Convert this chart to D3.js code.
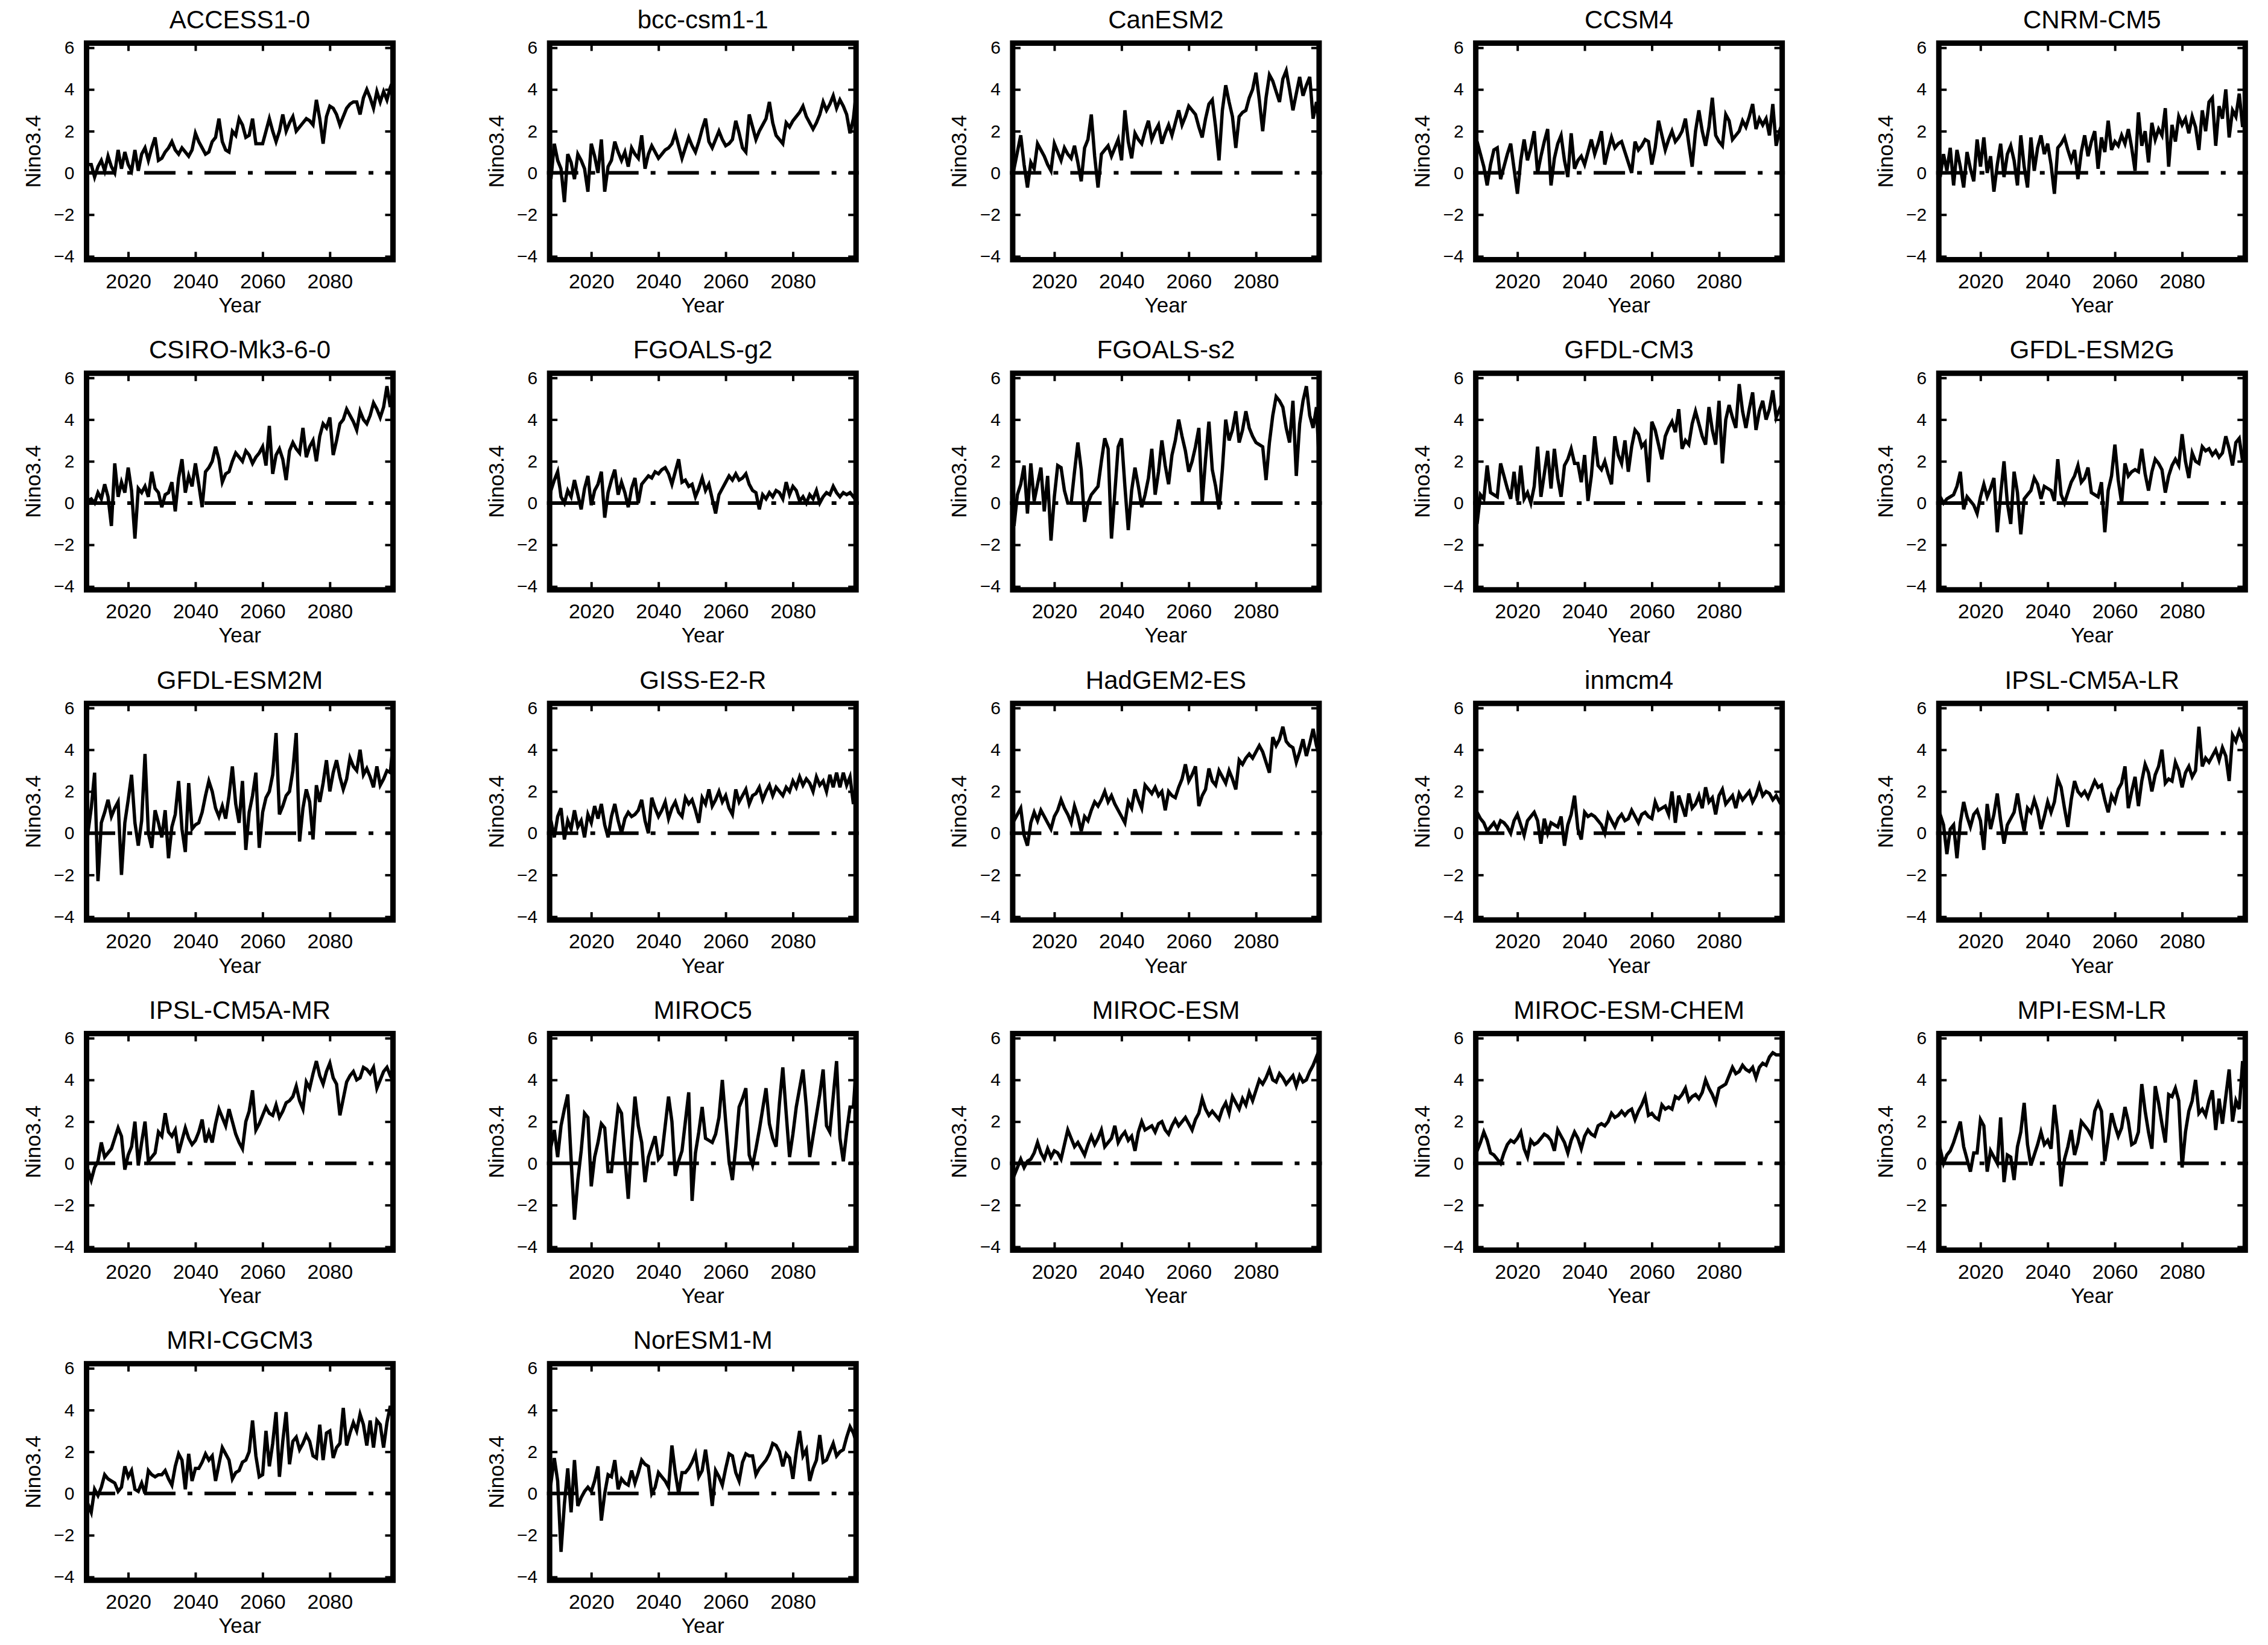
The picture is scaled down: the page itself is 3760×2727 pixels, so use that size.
<!DOCTYPE html>
<html lang="en">
<head>
<meta charset="utf-8">
<title>Nino3.4 - CMIP5 models</title>
<script src="https://cdn.jsdelivr.net/npm/d3@7"></script>
<style>
  body {margin: 0; background: white;}
  svg {display: block; background: white; font-family: "Liberation Sans", Arial, Helvetica, sans-serif;}
  .domain {display: none;}
  .tick line {stroke: black; stroke-width: 4;}
</style>
</head>
<body>
<svg id="chart" width="3760" height="2727"></svg>
<script>
var years = d3.range(2006, 2101);
var xTicks = [2020, 2040, 2060, 2080];
var yTicks = [-4, -2, 0, 2, 4, 6];

var models = ["ACCESS1-0", "bcc-csm1-1", "CanESM2", "CCSM4", "CNRM-CM5",
  "CSIRO-Mk3-6-0", "FGOALS-g2", "FGOALS-s2", "GFDL-CM3", "GFDL-ESM2G",
  "GFDL-ESM2M", "GISS-E2-R", "HadGEM2-ES", "inmcm4", "IPSL-CM5A-LR",
  "IPSL-CM5A-MR", "MIROC5", "MIROC-ESM", "MIROC-ESM-CHEM", "MPI-ESM-LR",
  "MRI-CGCM3", "NorESM1-M"];

var access10 = [1.0,0.5,0.4,0.4,-0.2,0.3,0.6,0.1,0.8,0.3, 0.0,1.1,0.2,1.0,0.4,0.1,1.1,0.1,0.9,1.2,
  0.6,1.2,1.7,0.6,0.7,1.0,1.2,1.5,1.1,0.9, 1.2,1.0,0.8,1.1,1.9,1.5,1.2,0.9,1.0,1.5,
  1.7,2.6,1.5,1.1,1.0,2.0,1.8,2.6,2.3,1.7, 1.8,2.6,1.4,1.4,1.4,2.0,2.6,2.0,1.5,2.0,
  2.8,2.0,2.4,2.7,2.0,2.2,2.4,2.6,2.5,2.3, 3.5,2.6,1.4,2.7,3.2,3.1,2.8,2.3,2.7,3.1,
  3.3,3.4,3.4,2.8,3.6,4.0,3.6,3.1,3.9,3.4, 3.9,3.5,4.1,4.5,3.5];
var bcc = [0.8,0.9,-0.3,1.4,0.6,0.2,-1.4,0.9,0.5,-0.3, 0.9,0.6,0.2,-0.9,1.4,0.8,0.0,1.6,-0.9,0.3,
  0.6,1.5,1.0,0.6,1.0,0.3,1.2,0.9,0.7,1.8, 0.2,0.9,1.3,1.0,0.7,0.9,1.1,1.2,1.4,1.9,
  1.3,0.7,1.2,1.7,1.3,1.0,1.5,2.1,2.6,1.5, 1.2,1.6,2.0,1.6,1.3,1.4,1.6,2.5,1.9,1.2,
  1.0,2.8,2.2,1.6,2.0,2.3,2.6,3.4,2.4,1.8, 1.6,1.4,2.4,2.2,2.5,2.7,2.9,3.2,2.7,2.4,
  2.1,2.4,2.8,3.4,3.0,3.3,3.7,3.1,3.5,3.2, 2.8,1.9,2.6,4.1,3.0];
var canesm2 = [-1.3,-0.4,0.2,1.0,1.8,0.4,-0.7,0.5,0.2,1.4, 1.1,0.8,0.4,0.1,1.4,1.0,0.6,1.2,0.9,0.7,
  1.3,0.5,-0.4,1.2,1.6,2.8,0.8,-0.7,0.9,1.1, 1.3,0.8,1.2,1.6,0.6,3.0,1.5,0.7,1.9,1.6,
  1.4,2.0,2.5,1.6,2.0,2.3,1.4,1.9,2.3,1.8, 2.4,3.0,2.3,2.7,3.2,3.0,2.8,2.2,1.7,2.6,
  3.3,3.5,2.2,0.6,3.0,4.2,3.4,2.7,1.2,2.7, 2.9,3.0,3.6,4.0,4.8,3.5,2.0,3.6,4.7,4.4,
  3.9,3.4,4.5,4.9,4.0,3.0,3.8,4.6,3.7,4.2, 4.6,2.6,3.4,2.0,5.4];
var ccsm4 = [-0.3,0.6,1.5,0.9,0.3,-0.6,0.4,1.1,1.2,-0.3, 0.3,0.9,1.4,0.2,-1.0,0.6,1.6,0.6,1.2,2.0,
  0.0,0.8,1.5,2.1,-0.6,0.7,1.4,1.8,0.6,-0.2, 1.9,0.2,0.6,0.8,0.4,1.0,1.6,0.9,1.4,2.0,
  0.4,1.1,1.7,1.2,1.4,1.5,1.0,0.5,0.0,1.5, 1.1,1.3,1.6,1.5,0.4,1.2,2.5,1.8,1.1,1.6,
  2.0,1.5,1.7,2.0,2.6,1.4,0.3,2.0,3.0,2.0, 1.3,2.2,3.6,1.8,1.5,1.3,2.8,2.5,1.6,1.8,
  2.0,2.5,2.2,2.7,3.3,2.1,2.6,2.3,2.6,1.8, 3.3,1.3,2.0,2.5,3.4];
var cnrm = [0.3,0.6,-0.2,0.9,0.1,1.2,-0.6,1.1,0.3,-0.7, 1.0,0.2,-0.4,1.6,0.3,1.7,0.0,0.8,-0.9,0.4,
  1.4,-0.2,0.9,1.3,0.6,-0.6,1.8,0.3,-0.7,1.7, 0.1,1.2,1.8,0.9,1.4,0.4,-1.0,1.2,1.4,1.7,
  1.1,0.6,1.1,-0.3,1.0,1.8,0.8,1.5,2.0,0.2, 1.7,1.0,2.5,1.1,1.5,1.3,1.8,1.4,2.1,1.2,
  0.1,2.9,1.3,2.0,0.5,2.4,1.6,2.1,1.8,3.1, 0.3,2.3,1.5,2.7,2.3,2.6,1.9,2.7,2.2,1.1,
  3.0,2.0,3.4,3.6,1.3,3.2,2.6,4.0,1.7,3.0, 2.7,3.8,2.2,3.0,2.3];
var csiro = [0.8,-0.3,0.1,0.2,0.0,0.5,0.2,0.9,0.3,-1.1, 1.9,0.3,1.0,0.5,1.7,0.6,-1.7,0.7,0.5,0.8,
  0.3,1.5,0.7,0.5,-0.2,0.4,0.5,1.0,-0.4,1.2, 2.1,0.5,1.3,0.8,1.9,0.9,-0.2,1.5,1.7,2.0,
  2.7,2.1,1.0,1.4,1.5,2.0,2.4,2.2,2.0,2.5, 2.3,1.9,2.2,2.4,2.7,1.8,3.7,1.4,2.3,2.6,
  2.1,1.1,2.5,2.9,2.6,2.4,3.6,2.2,2.7,3.0, 2.0,3.2,3.8,3.6,4.1,2.3,3.0,3.8,4.0,4.5,
  4.2,3.9,3.5,4.4,4.0,3.8,4.2,4.8,4.5,4.1, 4.6,5.6,4.6,5.7,2.0];
var fgoalsG2 = [-1.3,-0.5,0.6,1.1,1.5,0.3,0.0,0.6,0.3,1.1, 0.4,-0.3,0.7,1.3,-0.1,0.6,0.9,1.5,-0.7,0.5,
  1.1,1.6,0.4,1.0,0.5,-0.2,0.7,1.2,0.0,0.9, 1.1,1.3,1.2,1.5,1.4,1.6,1.7,1.4,0.9,1.5,
  2.1,1.0,1.1,0.8,0.9,0.3,0.7,1.2,0.6,0.9, 0.2,-0.5,0.4,0.7,1.0,1.3,1.1,1.4,1.1,1.2,
  1.4,0.9,0.6,0.5,-0.3,0.4,0.2,0.5,0.3,0.6, 0.5,0.2,1.0,0.4,0.8,0.6,0.1,0.3,0.0,0.4,
  0.2,0.6,0.0,0.3,0.5,0.4,0.8,0.5,0.3,0.5, 0.4,0.5,0.3,0.5,0.4];
var fgoalsS2 = [1.6,0.3,-1.1,0.4,0.9,1.8,-0.5,1.9,0.1,0.9, 1.7,-0.4,1.3,-1.8,0.3,1.8,1.7,0.6,0.0,0.0,
  1.5,2.9,1.6,-0.9,0.0,0.4,0.6,0.8,2.0,3.1, 2.6,-1.7,0.5,2.7,3.1,0.8,-1.3,0.6,1.7,0.8,
  -0.2,0.4,1.2,2.6,0.4,1.5,3.0,1.8,0.9,2.3, 3.0,4.0,3.2,2.5,1.5,2.0,2.7,3.6,0.0,2.1,
  3.9,1.6,0.8,-0.3,1.6,4.0,3.0,3.5,4.4,2.9, 3.5,4.4,3.6,3.2,2.9,2.8,2.7,1.1,2.9,4.2,
  5.1,4.9,4.6,3.6,2.9,4.9,1.3,3.8,4.9,5.6, 4.2,3.6,4.6,1.3,5.0];
var gfdlCm3 = [1.7,-0.2,-1.0,0.4,0.2,1.8,0.5,0.4,0.3,1.9, 1.3,0.7,0.2,1.5,0.1,1.8,0.2,0.5,0.0,0.8,
  2.7,0.3,1.4,2.5,0.7,2.6,1.2,0.3,1.8,2.1, 2.6,1.9,1.9,1.0,2.3,0.1,1.3,3.2,1.8,1.6,
  2.0,1.4,0.9,3.2,2.3,1.9,3.0,1.5,2.7,3.5, 3.3,2.7,2.9,1.0,3.9,3.5,2.8,2.1,3.2,3.6,
  3.9,3.4,4.5,2.6,3.0,2.8,3.8,4.4,3.8,3.2, 2.8,4.6,3.5,2.8,4.9,1.9,4.0,4.7,4.1,3.6,
  5.7,4.4,3.6,4.5,5.3,3.5,4.4,4.9,4.0,4.5, 5.4,4.1,4.5,4.9,5.2];
var gfdlEsm2g = [0.0,0.5,0.3,0.0,0.2,0.3,0.4,0.8,1.5,-0.3, 0.3,0.1,-0.1,-0.5,0.3,0.9,0.3,0.7,1.2,-1.4,
  0.4,2.0,0.0,-1.0,1.5,0.5,-1.5,0.2,0.4,0.6, 1.2,0.9,0.2,0.8,0.7,0.6,0.1,2.1,0.4,0.0,
  0.5,1.0,1.3,1.8,1.0,1.2,1.7,0.5,0.4,0.3, 1.0,-1.4,0.6,1.3,2.8,1.1,0.0,1.9,1.3,1.5,
  1.6,1.5,2.6,1.4,0.6,1.5,2.1,1.9,1.6,0.5, 1.3,1.8,2.1,1.8,3.3,2.0,1.2,2.4,2.0,1.9,
  2.7,2.5,2.6,2.3,2.5,2.2,2.4,3.2,2.6,1.8, 2.9,3.1,2.0,2.6,3.1];
var gfdlEsm2m = [1.3,-2.0,0.0,1.2,2.9,-2.3,0.5,1.0,1.6,0.8, 1.2,1.5,-2.0,0.5,1.6,2.8,0.5,-0.6,0.6,3.8,
  0.0,-0.7,1.1,0.5,-0.2,1.1,-1.2,0.3,0.9,2.5, 0.2,-0.9,2.4,0.2,0.4,0.5,1.0,1.8,2.5,2.0,
  1.2,0.8,1.3,0.7,1.8,3.2,1.4,0.5,2.5,-0.8, 1.0,1.8,2.9,-0.7,1.0,1.7,2.0,2.8,4.8,0.9,
  1.3,1.8,2.0,3.0,4.8,-0.4,1.2,2.1,1.5,-0.3, 2.3,1.5,2.4,3.5,2.0,2.9,3.5,2.7,2.1,2.6,
  3.6,3.2,3.0,4.0,2.8,3.1,2.7,2.2,3.2,2.3, 2.6,3.0,2.9,4.6,3.0];
var giss = [0.7,0.0,0.6,-0.2,0.8,1.2,-0.3,0.6,0.2,1.1, 0.3,0.6,-0.2,0.9,0.5,1.3,0.7,1.4,0.4,-0.2,
  0.8,1.4,0.6,0.0,0.7,1.0,0.8,0.9,1.1,1.6, 0.6,0.0,1.7,1.2,0.8,1.1,1.5,0.7,1.2,1.5,
  1.0,0.8,1.7,1.4,1.6,1.1,0.5,1.7,1.4,2.1, 1.3,1.6,2.0,1.5,1.8,1.2,0.9,2.1,1.5,1.8,
  2.1,1.4,1.8,1.9,2.2,1.6,2.0,2.3,1.8,2.2, 2.0,1.8,2.2,2.0,2.5,2.2,2.7,2.3,2.6,2.4,
  2.0,2.7,2.3,2.5,2.0,2.8,2.2,2.9,2.2,2.9, 2.3,2.7,1.4,2.5,2.9];
var hadgem = [0.0,0.3,0.6,0.9,1.2,-0.1,-0.6,0.5,1.0,0.6, 1.1,0.8,0.5,0.2,0.8,1.1,1.6,1.2,0.9,0.5,
  1.3,0.8,0.1,0.8,0.6,1.1,1.5,1.3,1.6,2.0, 1.5,1.8,1.4,1.1,0.8,0.5,1.5,1.2,2.1,1.6,
  1.2,2.3,2.1,1.9,2.2,1.8,2.0,1.1,2.0,1.8, 1.7,2.2,2.6,3.3,2.5,2.8,3.2,1.3,1.8,2.1,
  3.1,2.5,2.3,3.0,2.7,2.4,3.0,2.6,2.1,3.5, 3.3,3.6,3.8,3.6,3.9,4.2,3.9,3.4,2.9,4.6,
  4.2,4.5,5.1,4.4,4.2,4.1,3.4,3.9,4.5,3.7, 4.3,5.0,4.2,3.6,4.8];
var inmcm4 = [-0.5,0.4,1.0,0.7,0.5,0.1,0.3,0.5,0.2,0.6, 0.5,0.3,0.0,0.6,0.9,0.4,-0.1,0.6,0.8,1.0,
  0.6,-0.5,0.7,0.0,0.5,0.4,0.3,0.8,-0.6,0.4, 0.9,1.8,0.2,-0.3,1.0,0.8,0.9,0.8,0.6,0.4,
  0.0,0.9,0.6,0.3,0.7,0.9,0.6,0.7,1.1,0.8, 0.5,0.9,1.0,0.8,0.7,1.5,1.1,1.2,1.3,0.9,
  2.0,0.5,1.8,1.3,0.8,1.9,1.2,1.4,1.8,1.2, 2.2,1.5,1.7,0.9,1.8,2.1,1.4,1.6,1.8,1.2,
  1.9,1.6,1.8,2.0,1.5,1.8,2.3,1.8,2.0,1.9, 1.6,1.8,1.5,1.7,2.0];
var ipslLr = [-0.3,0.5,0.9,0.4,-1.0,0.2,0.4,-1.2,0.5,1.5, 0.8,0.3,0.9,1.1,0.6,-0.8,1.4,0.2,0.9,1.9,
  0.6,-0.5,0.4,0.7,1.0,1.9,0.9,0.1,1.2,1.0, 1.6,1.1,0.2,0.8,1.5,1.0,1.5,2.6,2.2,1.2,
  0.3,1.6,2.5,2.0,1.8,2.0,1.7,2.1,2.5,2.2, 2.3,1.6,1.0,1.8,1.5,2.1,2.4,3.2,1.2,2.0,
  2.7,1.3,2.5,3.3,2.9,2.0,2.8,3.2,4.0,2.4, 2.6,2.5,3.4,3.0,2.2,2.9,3.2,2.7,3.0,5.1,
  3.2,3.6,3.4,3.7,4.0,3.5,4.1,3.7,2.5,4.7, 4.4,4.9,4.5,4.8,4.2];
var ipslMr = [2.0,0.3,-0.3,-0.8,-0.2,0.1,1.0,0.3,0.5,0.7, 1.2,1.7,1.3,-0.3,0.4,0.8,2.0,-0.1,1.0,2.0,
  0.1,0.3,0.5,1.5,1.3,2.4,1.5,1.3,1.6,0.5, 1.1,1.7,1.2,0.9,1.1,1.5,2.1,1.0,1.5,1.0,
  1.9,2.6,2.2,1.8,2.6,2.0,1.4,1.0,0.7,2.0, 2.5,3.5,1.6,1.9,2.3,2.7,2.4,2.3,2.8,2.2,
  2.5,2.9,3.0,3.2,3.7,3.0,2.6,3.9,3.6,4.3, 4.9,4.2,3.8,4.4,4.8,4.1,3.8,2.3,3.1,3.9,
  4.2,4.4,4.0,4.1,4.6,4.5,4.3,4.6,3.6,4.0, 4.4,4.6,4.2,3.9,5.4];
var miroc5 = [0.2,-0.3,0.8,1.6,0.3,1.8,2.6,3.3,0.2,-2.7, -0.8,0.6,2.4,2.2,-1.1,0.3,1.0,1.9,1.7,-0.4,
  -0.4,1.2,2.7,2.4,0.3,-1.7,1.0,3.2,1.8,1.0, -0.9,0.3,0.8,1.3,0.2,0.4,1.8,3.2,2.0,-0.6,
  0.1,0.6,2.0,3.4,-1.8,0.5,1.5,2.7,1.2,1.1, 1.0,1.4,2.2,4.0,2.0,0.1,-0.8,0.8,2.7,3.1,
  3.6,0.4,-0.1,0.7,1.6,2.6,3.6,1.9,1.2,0.8, 2.9,4.6,2.4,0.3,1.4,2.7,3.6,4.5,2.7,0.3,
  1.3,2.3,3.3,4.5,1.8,1.5,3.2,4.9,1.2,0.1, 1.5,2.7,2.7,5.0,2.2];
var mirocEsm = [0.8,0.6,-0.6,-0.2,0.2,-0.2,0.1,0.2,0.5,1.0, 0.5,0.2,0.7,0.3,0.6,0.5,0.2,0.9,1.6,1.2,
  0.8,1.0,0.7,0.4,0.9,1.3,0.9,1.2,1.6,0.8, 1.0,1.2,1.8,1.0,1.3,1.5,1.1,1.3,0.6,1.5,
  2.0,1.6,1.7,1.8,1.5,1.9,2.0,1.6,1.4,1.8, 2.1,1.8,2.0,2.2,1.9,1.6,2.1,2.4,3.1,2.6,
  2.3,2.5,2.3,2.1,2.6,2.9,2.4,3.2,2.9,2.6, 3.1,2.8,3.4,3.0,3.5,4.0,3.8,4.1,4.5,4.0,
  3.9,4.3,4.1,3.8,4.0,4.2,3.7,4.2,3.9,4.0, 4.4,4.7,5.1,4.5,5.0];
var mirocEsmChem = [0.0,0.3,0.6,1.0,1.5,1.1,0.5,0.4,0.2,0.0, 0.5,0.9,1.1,1.0,1.2,1.5,0.7,0.3,1.1,0.9,
  1.0,1.2,1.4,1.3,1.1,0.6,1.6,1.3,1.0,0.5, 1.1,1.5,1.2,0.7,1.3,1.6,1.4,1.3,1.8,1.9,
  1.8,2.0,2.4,2.2,2.3,2.5,2.3,2.5,2.6,2.1, 2.5,2.8,3.2,2.3,2.4,2.2,2.1,2.8,2.6,2.7,
  2.6,3.2,3.1,3.3,3.6,3.0,3.2,3.3,3.1,3.4, 4.0,3.6,3.3,2.9,3.6,3.7,3.8,4.2,4.6,4.3,
  4.4,4.7,4.5,4.4,4.6,4.1,4.6,4.8,4.7,5.1, 5.3,5.2,5.2,5.1,4.9];
var mpiLr = [0.3,1.4,0.7,0.0,0.4,0.6,1.0,1.5,2.0,0.8, 0.2,-0.4,0.5,0.5,2.1,1.8,-0.4,0.6,0.3,0.0,
  2.2,-0.9,0.4,0.3,-0.8,0.8,1.5,2.9,0.9,-0.1, 0.4,0.9,1.5,0.9,1.1,0.7,2.8,1.4,-1.1,0.2,
  0.8,1.6,0.4,1.0,2.0,1.8,1.6,1.3,2.5,2.9, 2.5,0.1,1.2,2.4,1.8,1.3,1.7,2.7,2.0,0.9,
  1.0,1.5,3.8,2.5,1.5,0.7,3.7,2.9,1.9,1.0, 3.3,3.2,3.6,3.0,-0.2,1.5,2.5,3.0,4.0,2.4,
  2.6,2.3,3.0,3.5,1.6,3.1,1.9,3.2,4.5,2.0, 3.0,2.6,4.9,2.2,4.2];
var mri = [1.3,0.1,-0.5,-0.9,0.2,-0.1,0.3,0.9,0.7,0.6, 0.5,0.1,0.3,1.3,0.8,1.1,0.2,0.1,0.5,0.0,
  1.1,0.9,0.8,0.9,0.9,1.1,0.7,0.4,1.3,1.9, 1.6,0.2,1.9,0.6,1.2,1.2,1.5,1.9,1.6,1.8,
  0.6,1.4,2.2,1.9,1.6,0.7,1.0,1.1,1.5,1.6, 2.0,3.5,1.8,0.8,0.9,3.0,1.3,2.4,3.9,0.8,
  2.5,3.9,1.4,2.5,2.7,2.1,2.4,2.8,2.5,1.8, 1.7,3.3,1.6,2.9,3.0,1.7,2.2,2.4,4.1,2.3,
  2.9,3.4,3.0,3.8,3.3,2.3,3.5,2.2,3.5,3.3, 2.2,3.4,4.2,3.2,2.6];
var noresm = [0.2,-0.2,0.5,1.7,0.6,-2.8,-0.5,1.2,-0.9,1.6, -0.6,-0.2,0.1,0.3,0.1,0.6,1.3,-1.3,0.0,0.9,
  0.8,1.6,0.2,0.7,0.5,0.4,1.1,0.5,1.0,1.6, 1.4,1.3,0.0,0.3,1.0,0.8,0.6,0.3,2.3,1.0,
  0.0,1.0,1.0,1.2,1.5,1.9,0.8,1.1,2.1,0.9, -0.6,1.1,0.8,0.4,1.2,1.9,1.8,1.0,0.6,1.5,
  1.9,1.8,1.8,0.9,1.2,1.4,1.6,1.9,2.4,2.3, 2.0,1.3,1.9,1.7,0.7,2.0,3.0,1.8,2.1,0.6,
  1.2,1.6,2.8,1.5,1.6,2.0,2.4,1.8,2.0,2.1, 2.7,3.2,2.9,2.4,1.9];

var series = [access10, bcc, canesm2, ccsm4, cnrm, csiro, fgoalsG2, fgoalsS2, gfdlCm3, gfdlEsm2g,
  gfdlEsm2m, giss, hadgem, inmcm4, ipslLr, ipslMr, miroc5, mirocEsm, mirocEsmChem, mpiLr, mri, noresm];

var ncol = 5, left0 = 139, top0 = 67, colStep = 767.7, rowStep = 547.3;
var panelW = 517, panelH = 368, frameW = 9, tickLen = 13;

var svg = d3.select('#chart');

models.forEach(function(name, i) {
  var col = i % ncol, row = Math.floor(i / ncol);
  var left = left0 + col * colStep, top = top0 + row * rowStep;
  var half = frameW / 2;

  var x = d3.scaleLinear().domain([2006.8, 2099.6]).range([left, left + panelW]);
  var y = d3.scaleLinear().domain([-4.29, 6.35]).range([top + panelH, top]);

  var g = svg.append('g');

  g.append('clipPath').attr('id', 'clip' + i)
    .append('rect')
    .attr('x', left + half).attr('y', top + half)
    .attr('width', panelW - frameW).attr('height', panelH - frameW);

  // ticks on all four sides, pointing inwards
  var xb = g.append('g').attr('transform', 'translate(0,' + (top + panelH - half) + ')')
    .call(d3.axisBottom(x).tickValues(xTicks).tickFormat(d3.format('d'))
      .tickSizeInner(-tickLen).tickSizeOuter(0).tickPadding(23));
  g.append('g').attr('transform', 'translate(0,' + (top + half) + ')')
    .call(d3.axisTop(x).tickValues(xTicks).tickFormat('').tickSizeInner(-tickLen).tickSizeOuter(0));
  var yl = g.append('g').attr('transform', 'translate(' + (left + half) + ',0)')
    .call(d3.axisLeft(y).tickValues(yTicks).tickSizeInner(-tickLen).tickSizeOuter(0).tickPadding(20));
  g.append('g').attr('transform', 'translate(' + (left + panelW - half) + ',0)')
    .call(d3.axisRight(y).tickValues(yTicks).tickFormat('').tickSizeInner(-tickLen).tickSizeOuter(0));

  xb.selectAll('text').attr('font-size', 34).attr('font-family', null).attr('fill', 'black');
  yl.selectAll('text').attr('font-size', 30).attr('font-family', null).attr('fill', 'black');

  g.append('line')
    .attr('x1', x(2006.8)).attr('x2', x(2099.6))
    .attr('y1', y(0)).attr('y2', y(0))
    .attr('stroke', 'black').attr('stroke-width', 6)
    .attr('stroke-dasharray', '52,20,8,20');

  var line = d3.line()
    .x(function(d, j) { return x(years[j]); })
    .y(function(d) { return y(d); });

  g.append('path')
    .datum(series[i])
    .attr('clip-path', 'url(#clip' + i + ')')
    .attr('d', line)
    .attr('fill', 'none')
    .attr('stroke', 'black')
    .attr('stroke-width', 5.5);

  g.append('rect')
    .attr('x', left + half).attr('y', top + half)
    .attr('width', panelW - frameW).attr('height', panelH - frameW)
    .attr('fill', 'none').attr('stroke', 'black').attr('stroke-width', frameW);

  g.append('text')
    .attr('x', left + panelW / 2).attr('y', top - 20)
    .attr('text-anchor', 'middle').attr('font-size', 42)
    .text(name);

  g.append('text')
    .attr('x', left + panelW / 2).attr('y', top + 451)
    .attr('text-anchor', 'middle').attr('font-size', 35)
    .text('Year');

  g.append('text')
    .attr('transform', 'translate(' + (left - 72) + ',' + (top + panelH / 2) + ') rotate(-90)')
    .attr('text-anchor', 'middle').attr('font-size', 35)
    .text('Nino3.4');
});
</script>
</body>
</html>
